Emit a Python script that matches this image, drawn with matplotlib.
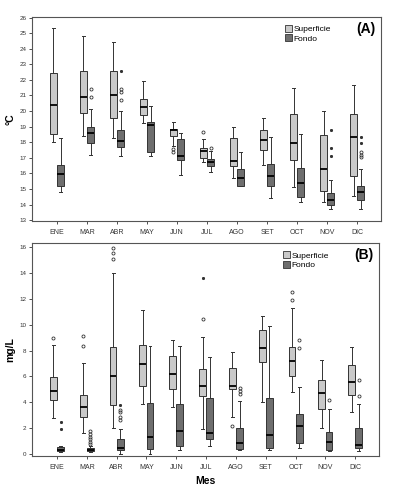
import matplotlib
matplotlib.use("Agg")
import matplotlib.pyplot as plt
from matplotlib.patches import Patch

plt.rcParams['font.family'] = ['Liberation Sans', 'DejaVu Sans']

months = ["ENE", "MAR", "ABR", "MAY", "JUN", "JUL", "AGO", "SET", "OCT", "NOV", "DIC"]

# ---- (A) temperatura, °C : [whislo, q1, med, q3, whishi] ----
temp_sup = [
    [18.0, 18.5, 20.4, 22.45, 25.3],
    [18.4, 19.9, 20.9, 22.55, 24.8],
    [18.3, 19.55, 21.05, 22.6, 24.4],
    [19.2, 19.75, 20.25, 20.8, 21.9],
    [17.75, 18.4, 18.75, 18.85, 19.3],
    [16.75, 17.0, 17.45, 17.6, 18.2],
    [15.7, 16.5, 16.8, 18.3, 18.95],
    [16.55, 17.5, 18.15, 18.8, 19.55],
    [15.1, 16.85, 17.95, 19.8, 21.5],
    [14.15, 14.85, 16.25, 18.45, 20.0],
    [14.55, 15.85, 18.35, 19.8, 21.7],
]
temp_sup_circ = [[], [], [], [], [17.55, 17.35], [18.65], [], [], [], [], []]
temp_sup_star = [[] for _ in months]

temp_fon = [
    [14.8, 15.2, 15.95, 16.55, 18.3],
    [17.2, 17.95, 18.6, 19.0, 20.1],
    [17.1, 17.7, 18.1, 18.75, 20.0],
    [17.1, 17.4, 19.1, 19.3, 20.3],
    [15.9, 16.85, 17.1, 18.2, 18.6],
    [16.1, 16.5, 16.7, 16.9, 17.45],
    [15.2, 15.2, 15.7, 16.25, 17.4],
    [14.4, 15.2, 15.85, 16.6, 18.35],
    [14.15, 14.45, 15.4, 16.35, 18.5],
    [13.7, 13.95, 14.3, 14.75, 15.6],
    [13.7, 14.3, 14.8, 15.2, 16.3],
]
temp_fon_circ = [[], [21.4, 20.9], [21.4, 21.2, 20.7], [], [], [17.6], [], [], [], [], [17.35, 17.2, 17.05]]
temp_fon_star = [[], [], [22.6], [], [], [], [], [], [], [18.75, 17.6, 17.1], [18.35, 17.95]]

# ---- (B) mg/L ----
mg_sup = [
    [2.8, 4.2, 4.9, 5.95, 8.4],
    [1.65, 2.85, 3.65, 4.55, 7.0],
    [2.0, 3.8, 6.05, 8.3, 14.0],
    [3.85, 5.25, 6.95, 8.4, 11.1],
    [3.65, 5.05, 6.15, 7.55, 8.8],
    [1.95, 4.45, 5.25, 6.6, 9.05],
    [2.85, 5.05, 5.25, 6.65, 7.85],
    [4.05, 7.15, 8.2, 9.55, 10.65],
    [4.8, 6.0, 7.2, 8.25, 11.25],
    [2.0, 3.5, 4.7, 5.75, 7.25],
    [3.25, 4.55, 5.55, 6.85, 8.3],
]
mg_sup_circ = [[9.0], [9.15, 8.35], [15.9, 15.5, 15.1], [], [], [10.45], [2.2], [], [12.5, 11.9], [], []]
mg_sup_star = [[], [], [], [], [], [13.6], [], [], [], [], []]

mg_fon = [
    [0.15, 0.2, 0.35, 0.55, 0.65],
    [0.15, 0.25, 0.35, 0.45, 0.6],
    [0.0, 0.35, 0.45, 1.15, 1.9],
    [0.0, 0.4, 1.3, 3.95, 8.35],
    [0.3, 0.6, 1.75, 3.85, 8.35],
    [0.6, 1.2, 1.6, 4.3, 7.5],
    [0.3, 0.4, 0.85, 2.05, 4.1],
    [0.3, 0.5, 1.5, 4.35, 9.9],
    [0.45, 0.85, 2.15, 3.1, 5.2],
    [0.2, 0.35, 0.95, 1.7, 3.45],
    [0.25, 0.45, 0.7, 2.0, 3.9],
]
mg_fon_circ = [[], [1.75, 1.55, 1.35, 1.15, 0.95, 0.8], [3.4, 3.25, 2.9, 2.6], [], [], [], [5.1, 4.9, 4.65], [], [8.8, 8.2], [4.2], [5.7, 4.5]]
mg_fon_star = [[2.5, 1.9], [], [3.8], [], [], [], [], [], [], [], []]

light = "#c9c9c9"
dark = "#6e6e6e"
edge = "#333333"


def draw_series(ax, stats, circ, star, pos_off, color):
    bx = []
    for s, c in zip(stats, circ):
        bx.append(dict(whislo=s[0], q1=s[1], med=s[2], q3=s[3], whishi=s[4], fliers=c))
    pos = [i + pos_off for i in range(len(stats))]
    ax.bxp(bx, positions=pos, widths=0.23, patch_artist=True,
           boxprops=dict(facecolor=color, edgecolor=edge, linewidth=0.7),
           medianprops=dict(color="black", linewidth=1.3),
           whiskerprops=dict(color=edge, linewidth=0.7),
           capprops=dict(color=edge, linewidth=0.7),
           capwidths=0.1,
           flierprops=dict(marker="o", markersize=2.2, markerfacecolor="none",
                           markeredgecolor=edge, markeredgewidth=0.6),
           manage_ticks=False)
    # valores extremos (asteriscos de SPSS)
    for i, vals in enumerate(star):
        if vals:
            ax.plot([i + pos_off] * len(vals), vals, linestyle="none", marker="*",
                    markersize=1.8, color=edge)


def style_axes(ax, ylim, yticks, ylabel, tag):
    ax.set_xlim(-0.83, 10.8)
    ax.set_ylim(*ylim)
    ax.set_yticks(yticks)
    ax.set_xticks(range(len(months)))
    ax.set_xticklabels(months)
    ax.tick_params(axis="x", labelsize=5, length=2.5, width=0.6, colors="#333333", pad=3)
    ax.tick_params(axis="y", labelsize=4.5, length=2.5, width=0.6, colors="#333333", pad=1.5)
    for sp in ax.spines.values():
        sp.set_color("#555555")
        sp.set_linewidth(0.8)
    ax.set_ylabel(ylabel, fontsize=7.5, fontweight="bold", labelpad=3)
    ax.text(0.985, 0.975, tag, transform=ax.transAxes, ha="right", va="top",
            fontsize=10, fontweight="bold")
    handles = [Patch(facecolor=light, edgecolor=edge, linewidth=0.6, label="Superficie"),
               Patch(facecolor=dark, edgecolor=edge, linewidth=0.6, label="Fondo")]
    ax.legend(handles=handles, loc="upper right", bbox_to_anchor=(0.87, 0.985),
              frameon=False, fontsize=6, handlelength=0.9, handleheight=0.9,
              handletextpad=0.15, labelspacing=0.15, borderaxespad=0.2)


fig = plt.figure(figsize=(3.97, 4.93), dpi=100)
axA = fig.add_axes([0.081, 0.552, 0.879, 0.414])
axB = fig.add_axes([0.081, 0.075, 0.874, 0.432])

draw_series(axA, temp_sup, temp_sup_circ, temp_sup_star, -0.12, light)
draw_series(axA, temp_fon, temp_fon_circ, temp_fon_star, 0.12, dark)
style_axes(axA, (12.95, 26.05), range(13, 27), "°C", "(A)")

draw_series(axB, mg_sup, mg_sup_circ, mg_sup_star, -0.12, light)
draw_series(axB, mg_fon, mg_fon_circ, mg_fon_star, 0.12, dark)
style_axes(axB, (-0.15, 16.3), range(0, 17, 2), "mg/L", "(B)")
axB.set_xlabel("Mes", fontsize=7.5, fontweight="bold", labelpad=4)

fig.savefig("out.png", dpi=100)
